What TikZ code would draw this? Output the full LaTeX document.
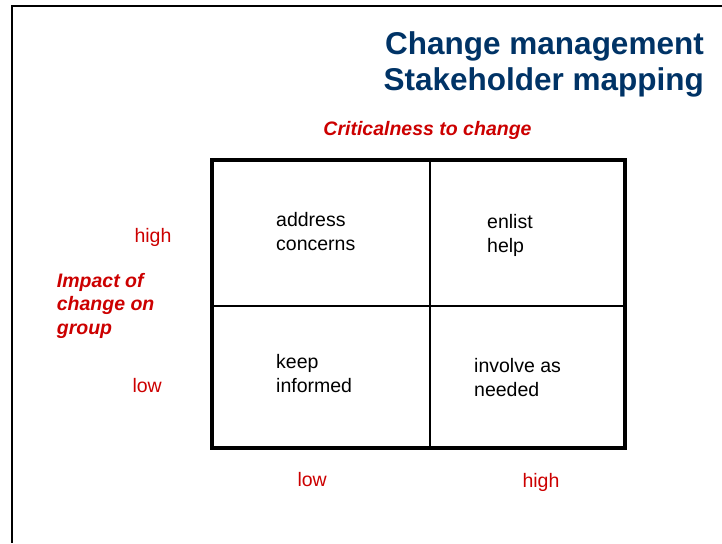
\documentclass[tikz,border=0pt]{standalone}
\usepackage{fontspec}
\setmainfont{Liberation Sans}
\definecolor{navy}{RGB}{0,51,102}
\definecolor{redlab}{RGB}{204,0,0}
\begin{document}
\begin{tikzpicture}[x=1pt,y=-1pt,
  txt/.style={inner sep=0pt,font=\fontsize{19.5}{23.5}\selectfont},
  cell/.style={txt,anchor=base west,text=black},
  axlab/.style={txt,text=redlab},
  axtitle/.style={txt,anchor=base west,text=redlab,font=\fontsize{19.5}{23.5}\selectfont\bfseries\itshape},
  ttl/.style={inner sep=0pt,anchor=base east,text=navy,font=\fontsize{31.5}{38}\selectfont\bfseries}]
\useasboundingbox (0,0) rectangle (722,543);
% frame
\draw[line width=1.8pt] (722,6) -- (11.8,6) -- (11.8,543);
% title
\node[ttl] (t1) at (704,55) {Change management};
\node[ttl] (t2) at (704,90) {Stakeholder mapping};
% x-axis title
\node[axtitle,anchor=base] (xt) at (427.5,135) {Criticalness to change};
% grid
\coordinate (tl) at (212,160);
\coordinate (br) at (624.7,448);
\coordinate (mt) at (429.5,160);
\coordinate (mb) at (429.5,448);
\coordinate (ml) at (212,305.7);
\coordinate (mr) at (624.7,305.7);
\draw[line width=2pt] (mt) -- (mb);
\draw[line width=2.2pt] (ml) -- (mr);
\draw[line width=3.8pt] (tl) rectangle (br);
% cells
\node[cell] (a1) at (276,226.5) {address};
\node[cell] (a2) at (276,250) {concerns};
\node[cell] (b1) at (487,228.5) {enlist};
\node[cell] (b2) at (487,252) {help};
\node[cell] (c1) at (276,368.5) {keep};
\node[cell] (c2) at (276,392.5) {informed};
\node[cell] (d1) at (474,372.5) {involve as};
\node[cell] (d2) at (474,396.5) {needed};
% y-axis labels
\node[axlab,anchor=base west] (yh) at (134.3,242.3) {high};
\node[axlab,anchor=base west] (yl) at (132.3,392.7) {low};
\node[axtitle] (yt1) at (56.7,287.3) {Impact of};
\node[axtitle] (yt2) at (56.7,310.7) {change on};
\node[axtitle] (yt3) at (56.7,334) {group};
% x-axis labels
\node[axlab,anchor=base west] (xl) at (297.3,486) {low};
\node[axlab,anchor=base west] (xh) at (522.3,487.3) {high};
\end{tikzpicture}
\end{document}
